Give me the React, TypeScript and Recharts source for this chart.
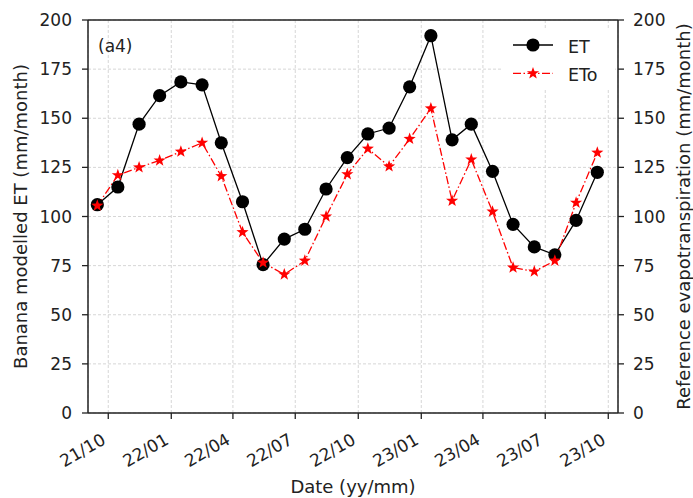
import React from "react";
import {
  LineChart,
  Line,
  XAxis,
  YAxis,
  CartesianGrid,
  Legend,
  ReferenceLine,
} from "recharts";

const FONT = "'DejaVu Sans', sans-serif";
const INK = "#222";

// monthly values, plotted on the 15th of each month
const months = [
  "2021-09", "2021-10", "2021-11", "2021-12", "2022-01", "2022-02", "2022-03",
  "2022-04", "2022-05", "2022-06", "2022-07", "2022-08", "2022-09", "2022-10",
  "2022-11", "2022-12", "2023-01", "2023-02", "2023-03", "2023-04", "2023-05",
  "2023-06", "2023-07", "2023-08", "2023-09",
];
const etValues = [
  106, 115, 147, 161.5, 168.5, 167, 137.5, 107.5, 75.5, 88.5, 93.5, 114, 130,
  142, 145, 166, 192, 139, 147, 123, 96, 84.5, 80.5, 98, 122.5,
];
const etoValues = [
  105.5, 121, 125, 128.5, 133, 137.5, 120.5, 92, 76.5, 70.5, 77.5, 100, 121.5,
  134.5, 125.5, 139.5, 155, 108, 129, 102.5, 74, 72, 77.5, 107, 132.5,
];

const tickMonths = [
  "2021-10", "2022-01", "2022-04", "2022-07", "2022-10",
  "2023-01", "2023-04", "2023-07", "2023-10",
];
const tickLabels = [
  "21/10", "22/01", "22/04", "22/07", "22/10",
  "23/01", "23/04", "23/07", "23/10",
];
const yTicks = [0, 25, 50, 75, 100, 125, 150, 175, 200];

const toTime = (ym: string, day: number) => {
  const [y, m] = ym.split("-").map(Number);
  return Date.UTC(y, m - 1, day);
};

const X_MIN = Date.UTC(2021, 8, 1, 10);
const X_MAX = Date.UTC(2023, 9, 15, 5);
const tickTimes = tickMonths.map((m) => toTime(m, 1));

const rows = months.map((m, i) => ({
  t: toTime(m, 15),
  et: etValues[i],
  eto: etoValues[i],
}));

const series = [
  { key: "et", name: "ET", color: "#000000", dash: undefined as string | undefined, marker: "circle" },
  { key: "eto", name: "ETo", color: "#ff0000", dash: "8 2.5 1.5 2.5", marker: "star" },
];

function starPath(cx: number, cy: number, outer: number, inner: number) {
  let d = "";
  for (let i = 0; i < 10; i++) {
    const r = i % 2 === 0 ? outer : inner;
    const a = -Math.PI / 2 + (i * Math.PI) / 5;
    d += (i === 0 ? "M" : "L") + (cx + r * Math.cos(a)).toFixed(2) + "," + (cy + r * Math.sin(a)).toFixed(2);
  }
  return d + "Z";
}

function Marker({ kind, cx, cy, color }: { kind: string; cx: number; cy: number; color: string }) {
  if (kind === "circle") return <circle cx={cx} cy={cy} r={6.6} fill={color} />;
  return <path d={starPath(cx, cy, 6.4, 2.6)} fill={color} />;
}

function DateTick(props: any) {
  const { x, y, payload } = props;
  const idx = tickTimes.indexOf(payload.value);
  return (
    <text
      transform={`translate(${x - 1.5},${y + 22}) rotate(-30)`}
      textAnchor="end"
      fontSize={17}
      fontFamily={FONT}
      fill={INK}
    >
      {tickLabels[idx]}
    </text>
  );
}

function LegendBox() {
  return (
    <svg width={112} height={62}>
      <rect x={0} y={0} width={112} height={62} fill="#fff" />
      {series.map((s, i) => {
        const cy = 17 + i * 28.3;
        return (
          <g key={s.key}>
            <line x1={10} x2={50} y1={cy} y2={cy} stroke={s.color} strokeWidth={1.3} strokeDasharray={s.dash} />
            <Marker kind={s.marker} cx={30} cy={cy} color={s.color} />
            <text x={65} y={cy + 7.7} fontSize={17.5} fontFamily={FONT} fill={INK}>
              {s.name}
            </text>
          </g>
        );
      })}
    </svg>
  );
}

const yLabel = (text: string, dx: number) => (p: any) => {
  const vb = p.viewBox;
  const bx = vb.x + dx;
  const cy = vb.y + vb.height / 2;
  return (
    <text
      x={bx}
      y={cy}
      transform={`rotate(-90, ${bx}, ${cy})`}
      textAnchor="middle"
      fontSize={18}
      fontFamily={FONT}
      fill={INK}
    >
      {text}
    </text>
  );
};

export default function App() {
  return (
    <div style={{ position: "absolute", left: 0, top: 0, background: "#fff" }}>
      <LineChart
        width={693}
        height={498}
        data={rows}
        margin={{ top: 20, right: 0, bottom: 0, left: 0 }}
      >
        <CartesianGrid yAxisId="left" stroke="#d6d6d6" strokeDasharray="3 2" />
        <XAxis
          dataKey="t"
          type="number"
          domain={[X_MIN, X_MAX]}
          ticks={tickTimes}
          interval={0}
          height={85}
          tick={<DateTick />}
          tickSize={6}
          tickMargin={2}
          axisLine={{ stroke: INK, strokeWidth: 1.5 }}
          tickLine={{ stroke: INK, strokeWidth: 1.3 }}
          label={{
            content: (p: any) => (
              <text
                x={p.viewBox.x + p.viewBox.width / 2}
                y={493}
                textAnchor="middle"
                fontSize={18}
                fontFamily={FONT}
                fill={INK}
              >
                Date (yy/mm)
              </text>
            ),
          }}
        />
        <YAxis
          yAxisId="left"
          width={88}
          domain={[0, 200]}
          ticks={yTicks}
          interval={0}
          tickSize={6}
          tickMargin={10}
          tick={{ fontSize: 17, fontFamily: FONT, fill: INK }}
          axisLine={{ stroke: INK, strokeWidth: 1.5 }}
          tickLine={{ stroke: INK, strokeWidth: 1.3 }}
          label={{ content: yLabel("Banana modelled ET (mm/month)", 26.5) }}
        />
        <YAxis
          yAxisId="right"
          orientation="right"
          width={75}
          domain={[0, 200]}
          ticks={yTicks}
          interval={0}
          tickSize={6}
          tickMargin={9}
          tick={{ fontSize: 17, fontFamily: FONT, fill: INK }}
          axisLine={{ stroke: INK, strokeWidth: 1.5 }}
          tickLine={{ stroke: INK, strokeWidth: 1.3 }}
          label={{ content: yLabel("Reference evapotranspiration (mm/month)", 72) }}
        />
        <ReferenceLine
          yAxisId="left"
          y={200}
          stroke={INK}
          strokeWidth={1.5}
          label={{
            content: (p: any) => (
              <text x={p.viewBox.x + 10} y={p.viewBox.y + 32} fontSize={17} fontFamily={FONT} fill={INK}>
                (a4)
              </text>
            ),
          }}
        />
        <Legend
          layout="vertical"
          verticalAlign="middle"
          align="center"
          content={() => <LegendBox />}
          wrapperStyle={{ left: 503, top: 28, width: 112, height: 62 }}
        />
        {series.map((s) => (
          <Line
            key={s.key}
            yAxisId={s.key === "et" ? "left" : "right"}
            dataKey={s.key}
            name={s.name}
            type="linear"
            stroke={s.color}
            strokeWidth={1.3}
            strokeDasharray={s.dash}
            isAnimationActive={false}
            dot={(d: any) => (
              <Marker key={`${s.key}-${d.index}`} kind={s.marker} cx={d.cx} cy={d.cy} color={s.color} />
            )}
            activeDot={false}
          />
        ))}
      </LineChart>
    </div>
  );
}
